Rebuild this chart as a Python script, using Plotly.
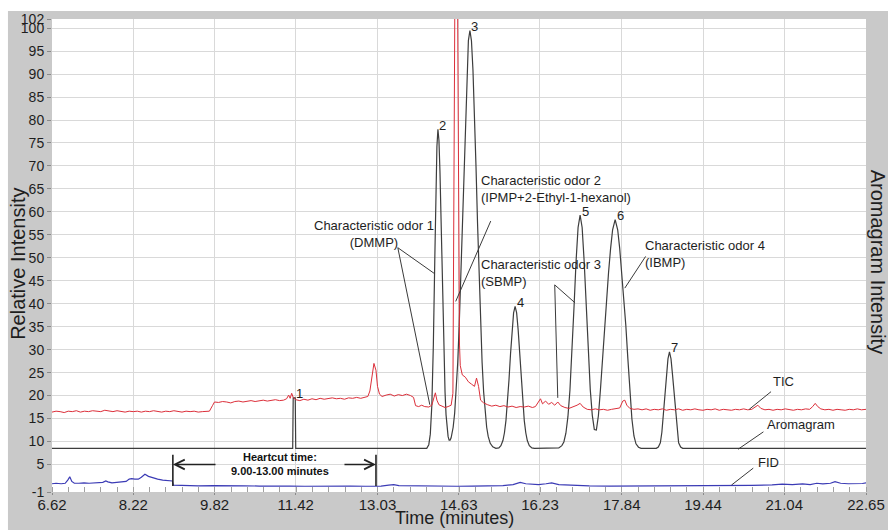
import plotly.graph_objects as go

# ---------------------------------------------------------------- axes
time_ticks = [6.62, 8.22, 9.82, 11.42, 13.03, 14.63, 16.23, 17.84, 19.44, 21.04, 22.65]
intensity_ticks = [-1, 5, 10, 15, 20, 25, 30, 35, 40, 45, 50, 55, 60, 65, 70,
                   75, 80, 85, 90, 95, 100, 102]

# ---------------------------------------------------------------- TIC (MS total ion current)
tic_time = [
    6.62, 6.70, 6.78, 6.86, 6.94, 7.02, 7.10, 7.18, 7.26, 7.34, 7.42, 7.50, 7.58, 7.66,
    7.74, 7.82, 7.90, 7.98, 8.06, 8.14, 8.22, 8.30, 8.38, 8.46, 8.54, 8.62, 8.70, 8.78,
    8.86, 8.94, 9.02, 9.10, 9.18, 9.26, 9.34, 9.42, 9.50, 9.58, 9.66, 9.72, 9.78, 9.82,
    9.90, 9.98, 10.06, 10.14, 10.22, 10.30, 10.38, 10.46, 10.54, 10.62, 10.70, 10.78,
    10.86, 10.94, 11.02, 11.10, 11.18, 11.24, 11.28, 11.31, 11.34, 11.37, 11.42, 11.50,
    11.58, 11.66, 11.74, 11.82, 11.90, 11.98, 12.06, 12.14, 12.22, 12.30, 12.38, 12.46,
    12.54, 12.62, 12.70, 12.78, 12.84, 12.88, 12.92, 12.96, 13.00, 13.03, 13.07, 13.12,
    13.20, 13.28, 13.36, 13.44, 13.52, 13.60, 13.68, 13.74, 13.78, 13.84, 13.90, 13.96,
    14.04, 14.10, 14.14, 14.17, 14.20, 14.24, 14.30, 14.36, 14.42, 14.48, 14.515, 14.525,
    14.54, 14.555, 14.57, 14.59, 14.605, 14.615, 14.625, 14.635, 14.645, 14.66, 14.70,
    14.76, 14.82, 14.88, 14.94, 14.98, 15.02, 15.06, 15.12, 15.20, 15.28, 15.36, 15.44,
    15.52, 15.60, 15.68, 15.76, 15.84, 15.92, 16.00, 16.08, 16.14, 16.20, 16.24, 16.28,
    16.34, 16.40, 16.46, 16.52, 16.58, 16.64, 16.72, 16.80, 16.88, 16.96, 17.02, 17.08,
    17.16, 17.24, 17.32, 17.40, 17.48, 17.56, 17.64, 17.72, 17.80, 17.86, 17.90, 17.94,
    18.00, 18.08, 18.16, 18.24, 18.32, 18.40, 18.48, 18.56, 18.64, 18.72, 18.80, 18.88,
    18.96, 19.04, 19.12, 19.20, 19.28, 19.36, 19.44, 19.52, 19.60, 19.68, 19.76, 19.84,
    19.92, 20.00, 20.08, 20.16, 20.24, 20.32, 20.40, 20.46, 20.52, 20.58, 20.66, 20.74,
    20.82, 20.90, 20.98, 21.06, 21.14, 21.22, 21.30, 21.38, 21.46, 21.54, 21.60, 21.65,
    21.70, 21.76, 21.84, 21.92, 22.00, 22.08, 22.16, 22.24, 22.32, 22.40, 22.48, 22.56,
    22.65,
]
tic_signal = [
    16.4, 16.6, 16.5, 16.3, 16.6, 16.5, 16.7, 16.4, 16.6, 16.5, 16.7, 16.6, 16.5, 16.8,
    16.6, 16.5, 16.7, 16.6, 16.4, 16.6, 16.5, 16.6, 16.4, 16.6, 16.5, 16.7, 16.5, 16.4,
    16.6, 16.5, 16.7, 16.5, 16.4, 16.6, 16.5, 16.6, 16.4, 16.5, 16.6, 16.6, 17.8, 18.6,
    18.5, 18.7, 18.6, 18.4, 18.7, 18.8, 18.6, 18.7, 18.9, 18.7, 18.8, 19.0,
    18.8, 18.9, 19.1, 18.9, 19.0, 19.3, 20.1, 19.4, 20.5, 19.6, 19.1, 18.9,
    19.2, 19.0, 19.3, 19.1, 19.4, 19.2, 19.3, 19.5, 19.3, 19.4, 19.2, 19.5,
    19.4, 19.6, 19.4, 19.7, 19.8, 21.0, 24.5, 27.0, 25.5, 22.0, 20.3, 19.8,
    20.1, 20.3, 19.9, 20.2, 20.0, 20.3, 20.0, 19.6, 17.8, 17.6, 17.9, 17.6,
    17.5, 17.9, 19.5, 20.6, 19.0, 18.0, 17.7, 17.4, 17.6, 17.9, 20.5, 40.0,
    70.0, 110.0, 160.0, 160.0, 110.0, 90.0, 65.0, 42.0, 31.0, 26.5, 24.5,
    24.0, 23.0, 22.5, 22.0, 23.8, 22.0, 19.0, 18.4, 18.0, 17.7, 17.9, 17.6,
    17.8, 17.5, 17.7, 17.4, 17.6, 17.5, 17.7, 17.4, 17.6, 18.6, 19.3, 18.2,
    18.8, 18.1, 18.5, 17.9, 18.6, 17.8, 17.4, 17.2, 17.5, 17.9, 18.3, 17.5,
    17.0, 16.9, 17.1, 16.9, 17.0, 16.8, 17.0, 17.1, 17.3, 18.8, 19.0, 17.9,
    17.2, 17.0, 17.1, 16.9, 17.1, 16.8, 17.0, 16.9, 17.1, 16.8, 17.0, 16.9,
    17.1, 16.8, 17.0, 16.9, 17.1, 16.9, 16.8, 17.0, 16.9, 17.1, 16.8, 17.0,
    16.9, 16.8, 17.0, 16.9, 17.1, 16.9, 17.0, 17.4, 17.9, 17.2, 16.9, 17.0,
    16.8, 17.0, 16.9, 17.1, 16.9, 16.8, 17.0, 16.9, 17.1, 17.0, 17.6, 18.3,
    17.6, 17.1, 16.9, 17.0, 16.8, 17.0, 16.9, 16.8, 17.0, 16.9, 17.1, 16.9,
    17.0,
]

# ---------------------------------------------------------------- aromagram (olfactometry trace)
aroma_time = [
    6.62, 11.36, 11.37, 11.41, 11.42, 14.00, 14.04, 14.07, 14.10, 14.13, 14.16, 14.18,
    14.20, 14.22, 14.24, 14.26, 14.28, 14.30, 14.32, 14.34, 14.36, 14.38, 14.40, 14.42,
    14.44, 14.46, 14.48, 14.50, 14.52, 14.55, 14.58, 14.61, 14.64, 14.67, 14.70, 14.73,
    14.76, 14.79, 14.82, 14.85, 14.88, 14.91, 14.94, 14.97, 15.00, 15.03, 15.06, 15.09,
    15.12, 15.15, 15.18, 15.21, 15.25, 15.30, 15.36, 15.42, 15.46, 15.50, 15.53, 15.56,
    15.59, 15.62, 15.65, 15.68, 15.71, 15.74, 15.77, 15.80, 15.83, 15.86, 15.89, 15.92,
    15.95, 15.98, 16.02, 16.07, 16.12, 16.60, 16.66, 16.70, 16.74, 16.78, 16.82, 16.86,
    16.90, 16.94, 16.98, 17.02, 17.06, 17.10, 17.14, 17.18, 17.22, 17.26, 17.30, 17.34,
    17.38, 17.42, 17.46, 17.50, 17.54, 17.58, 17.62, 17.66, 17.71, 17.76, 17.80, 17.84,
    17.88, 17.92, 17.96, 18.00, 18.04, 18.08, 18.12, 18.17, 18.22, 18.52, 18.56, 18.60,
    18.63, 18.66, 18.69, 18.72, 18.75, 18.78, 18.81, 18.84, 18.87, 18.90, 18.93, 18.96,
    19.00, 19.04, 22.65,
]
aroma_signal = [
    8.5, 8.5, 19.5, 19.5, 8.5, 8.5, 9.3, 11.6, 17.9, 31.1, 50.7, 64.2,
    74.2, 78.0, 75.6, 68.8, 59.0, 47.8, 37.1, 27.9, 20.8, 15.8, 12.8, 11.1,
    10.3, 10.3, 10.8, 11.7, 13.1, 16.2, 20.8, 27.2, 35.6, 45.9, 57.6, 69.8,
    81.4, 90.9, 97.3, 99.5, 97.3, 90.9, 81.4, 69.8, 57.6, 45.9, 35.6, 27.2,
    20.8, 16.2, 13.1, 11.1, 9.6, 8.85, 8.5, 8.6, 9.1, 10.2, 11.9, 14.6,
    18.5, 23.5, 29.1, 34.3, 38.0, 39.4, 38.0, 34.3, 29.1, 23.5, 18.5, 14.6,
    11.9, 10.2, 9.1, 8.6, 8.5, 8.6, 9.1, 9.9, 11.8, 15.4, 21.2, 29.4,
    39.3, 49.2, 56.6, 59.3, 56.6, 49.2, 39.3, 29.4, 21.3, 15.7, 12.6, 12.5,
    15.6, 21.2, 28.2, 35.3, 41.5, 46.8, 52.0, 56.1, 58.3, 56.1, 52.0, 46.8,
    41.5, 35.3, 28.1, 20.9, 14.9, 11.2, 9.5, 8.75, 8.5, 8.5, 8.8, 9.7,
    12.0, 16.0, 20.5, 24.5, 28.0, 29.5, 28.0, 24.5, 20.5, 16.0, 12.0, 9.7,
    8.8, 8.5, 8.5,
]

# ---------------------------------------------------------------- FID
fid_time = [
    6.62, 6.70, 6.80, 6.88, 6.93, 6.97, 7.01, 7.06, 7.15, 7.25, 7.35, 7.45, 7.55, 7.62,
    7.68, 7.72, 7.80, 7.90, 8.00, 8.08, 8.14, 8.19, 8.25, 8.32, 8.38, 8.45, 8.52, 8.60,
    8.70, 8.80, 8.90, 8.99, 9.01, 9.10, 9.30, 9.50, 9.80, 10.10, 10.40, 10.70, 11.00,
    11.30, 11.60, 11.90, 12.20, 12.50, 12.80, 13.10, 13.25, 13.35, 13.45, 13.70, 14.00,
    14.30, 14.60, 14.90, 15.20, 15.50, 15.70, 15.84, 15.95, 16.20, 16.35, 16.46, 16.60,
    16.90, 17.20, 17.60, 18.00, 18.40, 18.80, 19.20, 19.60, 20.00, 20.40, 20.80, 21.00,
    21.20, 21.40, 21.55, 21.68, 21.80, 21.95, 22.04, 22.15, 22.30, 22.45, 22.58, 22.65,
]
fid_signal = [
    0.8, 0.9, 0.8, 0.9, 1.6, 2.3, 1.3, 0.9, 0.9, 1.0, 0.9, 1.0, 1.0, 1.1,
    1.4, 1.2, 1.0, 1.1, 1.1, 1.3, 1.8, 1.9, 1.8, 1.8, 2.2, 2.85, 2.4, 2.1,
    1.8, 1.6, 1.5, 1.4, 0.5, 0.45, 0.4, 0.35, 0.4, 0.3, 0.35, 0.3, 0.35,
    0.3, 0.25, 0.3, 0.25, 0.3, 0.25, 0.3, 0.5, 0.6, 0.4, 0.35, 0.3,
    0.3, 0.25, 0.3, 0.3, 0.4, 0.6, 1.1, 0.8, 0.6, 0.8, 1.0, 0.6,
    0.4, 0.35, 0.3, 0.3, 0.35, 0.4, 0.35, 0.4, 0.35, 0.45, 0.55, 0.7,
    0.6, 0.75, 0.6, 0.9, 0.75, 0.9, 1.25, 0.9, 0.8, 0.75, 0.85, 1.0,
]

# ---------------------------------------------------------------- peak numbering (aromagram apexes)
peak_ids = ["1", "2", "3", "4", "5", "6", "7"]
peak_times = [11.39, 14.22, 14.85, 15.74, 17.02, 17.71, 18.78]
peak_heights = [19.5, 78.0, 99.5, 39.4, 59.3, 58.3, 29.5]

heartcut_start = 9.00
heartcut_end = 13.00

FONT = "Liberation Sans, Arial, sans-serif"
INK = "#1e1e1e"
LEADER = "#3a3a3a"

fig = go.Figure()
fig.add_trace(go.Scatter(x=aroma_time, y=aroma_signal, mode="lines", name="Aromagram",
                         line=dict(color="#3d3d3d", width=1.2)))
fig.add_trace(go.Scatter(x=tic_time, y=tic_signal, mode="lines", name="TIC",
                         line=dict(color="#dc2f3a", width=1)))
fig.add_trace(go.Scatter(x=fid_time, y=fid_signal, mode="lines", name="FID",
                         line=dict(color="#3b3bb5", width=1.2)))

annotations = []
shapes = []

# peak numbers
for pid, pt, ph in zip(peak_ids, peak_times, peak_heights):
    annotations.append(dict(x=pt, y=ph, text=pid, showarrow=False, xshift=5, yshift=4,
                            xanchor="center", yanchor="middle",
                            font=dict(size=13, color=INK, family=FONT)))

# compound call-outs
callouts = [
    dict(x=12.97, y=55.2, text="Characteristic odor 1<br>(DMMP)", xanchor="center", align="center"),
    dict(x=15.03, y=64.9, text="Characteristic odor 2<br>(IPMP+2-Ethyl-1-hexanol)", xanchor="left", align="left"),
    dict(x=15.03, y=46.7, text="Characteristic odor 3<br>(SBMP)", xanchor="left", align="left"),
    dict(x=18.25, y=50.8, text="Characteristic odor 4<br>(IBMP)", xanchor="left", align="left"),
    dict(x=21.02, y=23.0, text="TIC", xanchor="center", align="center"),
    dict(x=21.37, y=13.6, text="Aromagram", xanchor="center", align="center"),
    dict(x=20.72, y=5.5, text="FID", xanchor="center", align="center"),
]
for c in callouts:
    annotations.append(dict(showarrow=False, yanchor="middle",
                            font=dict(size=13, color=INK, family=FONT), **c))

leaders = [
    (13.43, 52.2, 14.16, 46.5),
    (13.43, 52.2, 14.06, 18.0),
    (15.26, 58.0, 14.57, 40.5),
    (16.52, 44.1, 16.92, 40.2),
    (16.52, 44.1, 16.58, 19.5),
    (18.31, 50.3, 17.90, 43.4),
    (20.78, 20.85, 20.35, 17.0),
    (20.63, 12.1, 20.13, 8.3),
    (20.43, 4.2, 20.0, 0.5),
]
for x0, y0, x1, y1 in leaders:
    shapes.append(dict(type="line", xref="x", yref="y", x0=x0, y0=y0, x1=x1, y1=y1,
                       line=dict(color=LEADER, width=1)))

# heart-cut window
for xv in (heartcut_start, heartcut_end):
    shapes.append(dict(type="line", xref="x", yref="y", x0=xv, x1=xv, y0=0.3, y1=7.1,
                       line=dict(color="#222222", width=1.6)))
annotations.append(dict(x=heartcut_start, y=5.0, ax=9.87, ay=5.0, axref="x", ayref="y",
                        text="", showarrow=True, arrowhead=5, arrowsize=1.2,
                        arrowwidth=1.6, arrowcolor="#222222"))
annotations.append(dict(x=heartcut_end, y=5.0, ax=12.35, ay=5.0, axref="x", ayref="y",
                        text="", showarrow=True, arrowhead=5, arrowsize=1.2,
                        arrowwidth=1.6, arrowcolor="#222222"))
annotations.append(dict(x=11.11, y=5.0, showarrow=False, align="center",
                        xanchor="center", yanchor="middle",
                        text=f"<b>Heartcut time:</b><br><b>{heartcut_start:.2f}-{heartcut_end:.2f} minutes</b>",
                        font=dict(size=11, color="#111111", family=FONT)))

# axis titles
annotations.append(dict(xref="paper", yref="paper", x=-0.042, y=0.482, text="Relative Intensity",
                        xanchor="center", yanchor="middle",
                        textangle=-90, showarrow=False, font=dict(size=20, color=INK, family=FONT)))
annotations.append(dict(xref="paper", yref="paper", x=1.0147, y=0.485, text="Aromagram Intensity",
                        xanchor="center", yanchor="middle",
                        textangle=90, showarrow=False, font=dict(size=20, color=INK, family=FONT)))
annotations.append(dict(xref="paper", yref="paper", x=0.495, y=-0.055, text="Time (minutes)",
                        xanchor="center", yanchor="middle",
                        showarrow=False, font=dict(size=18, color=INK, family=FONT)))

# white page margin around the grey frame
shapes.append(dict(type="rect", xref="paper", yref="paper", x0=-0.07, x1=-0.0541,
                   y0=-0.09, y1=1.05, fillcolor="white", line=dict(width=0), layer="below"))
shapes.append(dict(type="rect", xref="paper", yref="paper", x0=-0.07, x1=1.03,
                   y0=1.0169, y1=1.05, fillcolor="white", line=dict(width=0), layer="below"))

fig.update_layout(
    width=888, height=530,
    margin=dict(l=52, r=22, t=19, b=38),
    paper_bgcolor="#c9c9c9", plot_bgcolor="white",
    showlegend=False,
    font=dict(family=FONT, color=INK),
    annotations=annotations, shapes=shapes,
    xaxis=dict(range=[6.62, 22.65], tickmode="array", tickvals=time_ticks,
               ticktext=[f"{v:.2f}" for v in time_ticks], automargin=False,
               showgrid=True, gridcolor="#d9d9d9", gridwidth=1,
               ticks="outside", ticklen=2, tickcolor="#8a8a8a", ticklabelstandoff=-3,
               tickfont=dict(size=15, color=INK, family=FONT),
               zeroline=False, showline=False,
               minor=dict(tickmode="linear", tick0=6.62, dtick=(22.65 - 6.62) / 50,
                          ticks="inside", ticklen=5, tickcolor="#a0a0a0", showgrid=False)),
    yaxis=dict(range=[-1, 102], tickmode="array", tickvals=intensity_ticks,
               ticktext=[str(v) for v in intensity_ticks], automargin=False,
               showgrid=True, gridcolor="#d9d9d9", gridwidth=1,
               ticks="outside", ticklen=4, tickcolor="#8a8a8a",
               tickfont=dict(size=14, color=INK, family=FONT),
               zeroline=False, showline=False),
)

fig.write_html("out.html")
